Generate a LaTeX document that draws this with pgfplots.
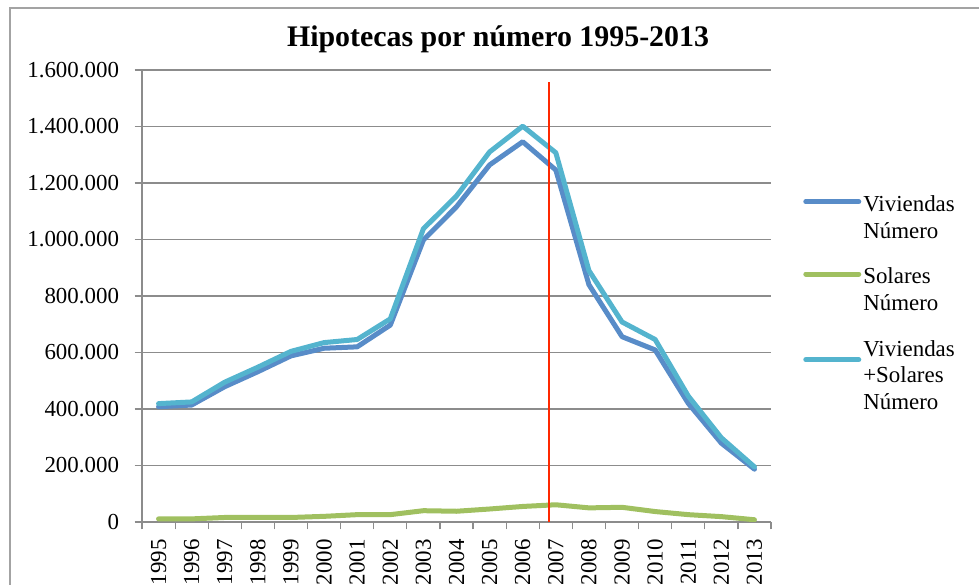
\documentclass[border=0pt]{standalone}
\usepackage{pgfplots}
\pgfplotsset{compat=1.18}
\usepackage{fontspec}
\setmainfont{Liberation Serif}
\definecolor{cBlue}{RGB}{88,140,200}
\definecolor{cGreen}{RGB}{160,192,96}
\definecolor{cCyan}{RGB}{84,180,206}
\definecolor{cGrid}{RGB}{140,140,140}
\definecolor{cRed}{RGB}{255,40,0}
\begin{document}
\begin{tikzpicture}[x=1bp,y=1bp]
\useasboundingbox (0,0) rectangle (979,585);
\draw[cGrid!80, line width=1.2bp] (10,-20) -- (10,577) -- (1000,577);
\begin{axis}[
  at={(142bp,63bp)}, anchor=south west,
  scale only axis, width=629bp, height=452bp,
  xmin=-0.5, xmax=18.5, ymin=0, ymax=1600000,
  axis x line*=bottom, axis y line*=left,
  axis line style={cGrid, line width=1.2bp},
  tick style={cGrid, line width=1.2bp},
  tick align=outside, major tick length=7.5bp,
  xtick={-0.5,0.5,...,18.5}, xticklabels={},
  extra x ticks={0,1,...,18},
  extra x tick labels={1995,1996,1997,1998,1999,2000,2001,2002,2003,2004,2005,2006,2007,2008,2009,2010,2011,2012,2013},
  extra x tick style={major tick length=0pt, tick label style={font=\fontsize{23}{27}\selectfont, yshift=-14bp, rotate=90, anchor=east}},
  ytick={0,200000,...,1600000},
  scaled y ticks=false,
  yticklabel style={xshift=-12bp, /pgf/number format/.cd, fixed, 1000 sep={.}, assume math mode=true},
  tick label style={font=\fontsize{23}{27}\selectfont},
  ymajorgrids, major grid style={cGrid, line width=1.2bp},
  title={Hipotecas por número 1995-2013},
  title style={font=\bfseries\fontsize{30}{35}\selectfont, at={(0.566,1)}, anchor=base, yshift=18bp},
  legend style={at={(1.051,0.727)}, anchor=north west, draw=none, fill=none, inner sep=0pt,
    row sep=24bp, font=\fontsize{23}{27}\selectfont, cells={align=left}},
  legend cell align=left,
  legend image code/.code={\draw[#1, line cap=round] (0bp,16bp) -- (53bp,16bp);},
  every axis plot/.append style={line width=5bp, line join=round, line cap=round},
]
\addplot[cBlue] coordinates {
 (0,408000) (1,414000) (2,479000) (3,532000) (4,588000) (5,615000) (6,620000) (7,697000)
 (8,998000) (9,1116000) (10,1264000) (11,1346000) (12,1246000) (13,840000) (14,656000)
 (15,609000) (16,420000) (17,279000) (18,187000)};
\addlegendentry{Viviendas\\Número}
\addplot[cGreen] coordinates {
 (0,11000) (1,11000) (2,16000) (3,16000) (4,16000) (5,20000) (6,26000) (7,26000)
 (8,40000) (9,38000) (10,46000) (11,55000) (12,61000) (13,50000) (14,52000)
 (15,37000) (16,26000) (17,19000) (18,8000)};
\addlegendentry{Solares\\Número}
\addplot[cCyan] coordinates {
 (0,419000) (1,425000) (2,495000) (3,548000) (4,604000) (5,635000) (6,646000) (7,719000)
 (8,1038000) (9,1154000) (10,1310000) (11,1401000) (12,1307000) (13,890000) (14,708000)
 (15,646000) (16,446000) (17,298000) (18,195000)};
\addlegendentry{Viviendas\\+Solares\\Número}
\addplot[cRed, line width=2.5bp, line cap=butt, forget plot] coordinates {(11.8,0) (11.8,1557500)};
\end{axis}
\end{tikzpicture}
\end{document}
